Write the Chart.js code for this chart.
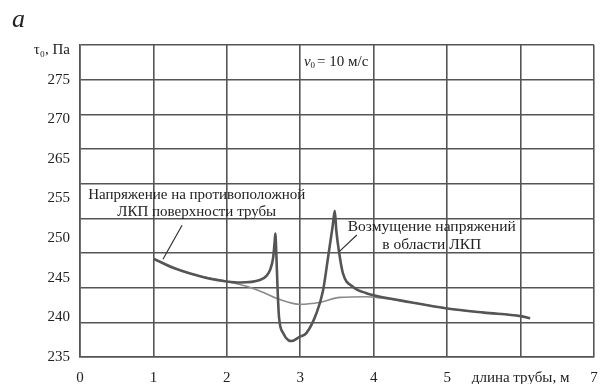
<!DOCTYPE html>
<html><head><meta charset="utf-8">
<script src="https://cdn.jsdelivr.net/npm/chart.js@4"></script>
<style>html,body{margin:0;padding:0;background:#fff}#wrap{width:605px;height:384px;position:relative}</style>
</head><body><div id="wrap"><canvas id="c" width="605" height="384"></canvas></div>
<script>
// Disturbed stress (thick line): x = pipe length, m ; y = tau0, Pa
const disturbedX = [1.0, 1.23, 1.5, 1.77, 2.0, 2.18, 2.45, 2.54, 2.59, 2.63, 2.65, 2.66, 2.675, 2.69, 2.71, 2.77, 2.84, 2.88, 2.99, 3.08, 3.22, 3.31, 3.38, 3.44, 3.47, 3.49, 3.53, 3.58, 3.72, 3.9, 4.0, 4.5, 5.0, 5.5, 6.0, 6.13];
const disturbedY = [249.2, 248.0, 247.05, 246.3, 245.9, 245.75, 246.1, 246.7, 247.6, 249.3, 251.5, 252.8, 249.5, 245.0, 240.8, 238.4, 237.4, 237.3, 237.9, 238.4, 241.3, 244.6, 249.5, 253.8, 256.1, 253.3, 250.0, 247.1, 245.1, 244.2, 243.9, 242.9, 242.0, 241.4, 240.9, 240.6];
// Stress on the opposite surface (thin line)
const oppositeX = [1.0, 1.5, 2.0, 2.3, 2.5, 2.72, 3.0, 3.27, 3.54, 3.9, 4.1, 4.5, 5.0, 5.5, 6.0, 6.13];
const oppositeY = [249.2, 247.05, 245.9, 245.1, 244.3, 243.3, 242.6, 242.9, 243.6, 243.7, 243.5, 242.9, 242.0, 241.4, 240.9, 240.6];
const xTicks = [0, 1, 2, 3, 4, 5, 6, 7];
const xTickLabels = ['0', '1', '2', '3', '4', '5', 'длина трубы, м', '7'];
// grid lines of the value axis
const yGrid = [235, 240, 245, 250, 255, 260, 265, 270, 275, 280];
// printed value labels (evenly spaced in the original figure, 260 missing)
const yTickLabels = ['235', '240', '245', '250', '255', '265', '270', '275'];
const yAxisTitle = 'τ₀, Па';
const note1 = ['Напряжение на противоположной', 'ЛКП поверхности трубы'];
const note2 = ['Возмущение напряжений', 'в области ЛКП'];

const toPts = (xs, ys) => xs.map((x, i) => ({x, y: ys[i]}));
const SERIF = '"Liberation Serif", "DejaVu Serif", serif';
// label slots: 8 evenly spaced labels between 235 and 275 on the grid axis
const labSlots = yTickLabels.map((_, i) => i);
const labMax = 7 * 45 / 40; // 235..280 span mapped onto label slots 0..7 (235..275)
const titleSlot = 7.74;

const notes = {
  id: 'notes',
  afterDatasetsDraw(chart) {
    const {ctx, scales: {x, y}} = chart;
    const X = v => x.getPixelForValue(v), Y = v => y.getPixelForValue(v);
    ctx.save();
    ctx.fillStyle = '#222';
    ctx.strokeStyle = '#333';
    ctx.lineWidth = 1.2;
    ctx.font = '15px ' + SERIF;
    ctx.textAlign = 'center';
    ctx.textBaseline = 'middle';
    ctx.fillText(note1[0], X(1.59), Y(258.4));
    ctx.fillText(note1[1], X(1.59), Y(255.9));
    ctx.font = '15.5px ' + SERIF;
    ctx.fillText(note2[0], X(4.79), Y(253.8));
    ctx.fillText(note2[1], X(4.79), Y(251.1));
    ctx.beginPath();
    ctx.moveTo(X(1.13), Y(249.1)); ctx.lineTo(X(1.39), Y(254.0));
    ctx.moveTo(X(3.53), Y(250.2)); ctx.lineTo(X(3.77), Y(252.6));
    ctx.stroke();
    // v0 = 10 m/s
    ctx.textAlign = 'left';
    let px = X(3.05), py = Y(277.6);
    ctx.font = 'italic 15px ' + SERIF;
    ctx.fillText('v', px, py);
    px += ctx.measureText('v').width;
    ctx.font = '9px ' + SERIF;
    ctx.fillText('0', px, py + 4);
    px += ctx.measureText('0').width + 2;
    ctx.font = '15px ' + SERIF;
    ctx.fillText('= 10 м/с', px, py);
    // figure letter
    ctx.textBaseline = 'alphabetic';
    ctx.font = 'italic 26px ' + SERIF;
    ctx.fillText('a', 12, 27);
    ctx.restore();
  }
};

new Chart(document.getElementById('c'), {
  type: 'scatter',
  data: {
    datasets: [
      {data: toPts(disturbedX, disturbedY), showLine: true, borderColor: '#555', borderWidth: 2.6, pointRadius: 0, cubicInterpolationMode: 'monotone'},
      {data: toPts(oppositeX, oppositeY), showLine: true, borderColor: '#8a8a8a', borderWidth: 1.6, pointRadius: 0, cubicInterpolationMode: 'monotone'}
    ]
  },
  options: {
    responsive: false,
    animation: false,
    events: [],
    layout: {padding: {top: 45, right: 11, left: 0, bottom: 0}},
    plugins: {legend: {display: false}, tooltip: {enabled: false}},
    scales: {
      x: {
        type: 'linear', min: 0, max: 7,
        afterBuildTicks: s => { s.ticks = xTicks.map(v => ({value: v})); },
        afterFit: s => { s.height = 27; s.paddingLeft = 0; s.paddingRight = 0; },
        grid: {color: '#555', lineWidth: 1.6, drawTicks: false},
        border: {color: '#555', width: 1.6},
        ticks: {
          padding: 12, color: '#222', maxRotation: 0, autoSkip: false,
          font: {family: SERIF, size: 15},
          callback: v => xTickLabels[xTicks.indexOf(v)]
        }
      },
      y: {
        type: 'linear', min: 235, max: 280, position: 'left', weight: 1,
        afterBuildTicks: s => { s.ticks = yGrid.map(v => ({value: v})); },
        afterFit: s => { s.width = 0; },
        grid: {color: '#555', lineWidth: 1.6, drawTicks: false},
        border: {color: '#555', width: 1.6},
        ticks: {display: false}
      },
      yLab: {
        type: 'linear', min: 0, max: labMax, position: 'left', weight: 2,
        afterBuildTicks: s => { s.ticks = labSlots.map(v => ({value: v})).concat([{value: titleSlot}]); },
        afterFit: s => { s.width = 80; },
        grid: {display: false, drawTicks: false},
        border: {display: false},
        ticks: {
          padding: 10, color: '#222', autoSkip: false,
          font: {family: SERIF, size: 15},
          callback: v => v === titleSlot ? yAxisTitle : yTickLabels[v]
        }
      }
    }
  },
  plugins: [notes]
});
</script></body></html>
